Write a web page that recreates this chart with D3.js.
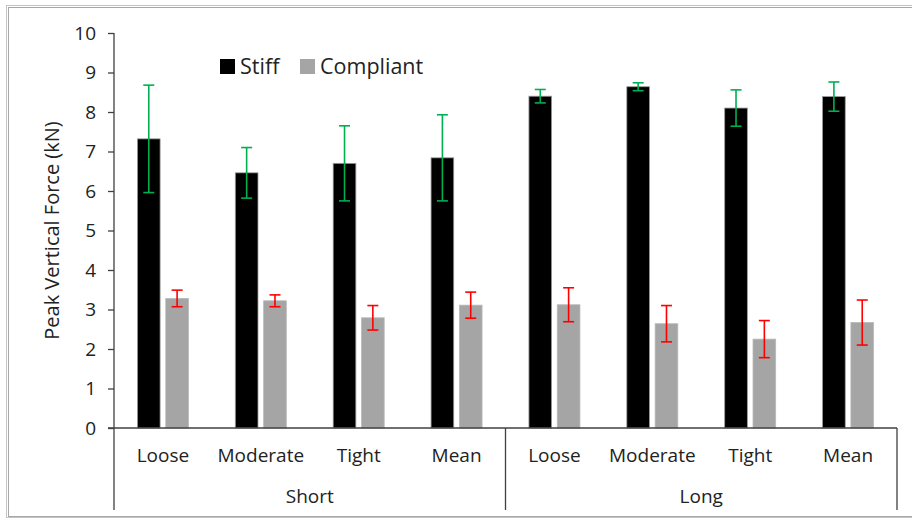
<!DOCTYPE html>
<html>
<head>
<meta charset="utf-8">
<script src="https://cdn.jsdelivr.net/npm/d3@7"></script>
<style>
	body { margin: 0; background: #fff; }
	text { font-family: "Open Sans", sans-serif; fill: #222; }
</style>
</head>
<body>
<div id="chart"></div>
<script>
// data
const groups = ['Short', 'Long'];
const conditions = ['Loose', 'Moderate', 'Tight', 'Mean'];
const stiff = [7.32, 6.46, 6.70, 6.84, 8.40, 8.64, 8.10, 8.39];
const stiffErr = [1.36, 0.64, 0.95, 1.09, 0.17, 0.10, 0.46, 0.37];
const compliant = [3.28, 3.22, 2.79, 3.11, 3.12, 2.64, 2.25, 2.67];
const compliantErr = [0.21, 0.15, 0.31, 0.33, 0.43, 0.46, 0.47, 0.57];
const yTicks = [0, 1, 2, 3, 4, 5, 6, 7, 8, 9, 10];

const w = 912, h = 520;
const m = { left: 114, right: 15, top: 33, bottom: 92 };

let svg = d3.select('#chart').append('svg')
	.attr('width', w).attr('height', h);

// frame
svg.append('rect').attr('x', 6.5).attr('y', 5.5).attr('width', w).attr('height', 512)
	.attr('fill', 'none').attr('stroke', '#c4c4c4').attr('stroke-width', 1);
svg.append('rect').attr('x', 8.5).attr('y', 7.5).attr('width', w).attr('height', 509)
	.attr('fill', 'none').attr('stroke', '#a8a8a8').attr('stroke-width', 1);

// one slot per group/condition
let cats = [];
groups.forEach(function(g) { conditions.forEach(function(c) { cats.push(g + '|' + c) }) });

const x = d3.scaleBand().domain(cats).range([m.left, w - m.right]);
const inner = d3.scaleBand().domain(['stiff', 'compliant']).range([0, 51]).paddingInner(0.2);
const y = d3.scaleLinear().domain([0, 10]).range([h - m.bottom, m.top]);
const y0 = y(0);
const off = (x.bandwidth() - 51) / 2;

const series = [
	{ key: 'stiff', vals: stiff, err: stiffErr, fill: '#000000', stroke: '#9a9a9a', ebar: '#00b050' },
	{ key: 'compliant', vals: compliant, err: compliantErr, fill: '#a5a5a5', stroke: '#b8b8b8', ebar: '#ff0000' }
];

series.forEach(function(s) {
	let g = svg.append('g').attr('class', 'bars-' + s.key);
	g.selectAll('rect')
		.data(s.vals)
		.enter()
		.append('rect')
		.attr('x', function(d, i) { return x(cats[i]) + off + inner(s.key) })
		.attr('y', function(d) { return y(d) })
		.attr('width', inner.bandwidth())
		.attr('height', function(d) { return y0 - y(d) })
		.attr('fill', s.fill)
		.attr('stroke', s.stroke)
		.attr('stroke-width', 0.8);
});

// error bars
series.forEach(function(s) {
	let g = svg.append('g').attr('class', 'err-' + s.key)
		.attr('stroke', s.ebar).attr('stroke-width', 1.6).attr('fill', 'none');
	s.vals.forEach(function(v, i) {
		let cx = x(cats[i]) + off + inner(s.key) + inner.bandwidth() / 2;
		let hi = y(v + s.err[i]), lo = y(v - s.err[i]);
		g.append('line').attr('x1', cx).attr('x2', cx).attr('y1', hi).attr('y2', lo);
		g.append('line').attr('x1', cx - 5.5).attr('x2', cx + 5.5).attr('y1', hi).attr('y2', hi);
		g.append('line').attr('x1', cx - 5.5).attr('x2', cx + 5.5).attr('y1', lo).attr('y2', lo);
	});
});

// y axis
let yAxis = svg.append('g')
	.attr('transform', 'translate(' + m.left + ',0)')
	.call(d3.axisLeft(y).tickValues(yTicks).tickSize(6).tickPadding(12).tickFormat(d3.format('d')));
yAxis.selectAll('line, path').attr('stroke', '#404040').attr('stroke-width', 1.3);
yAxis.select('.domain').attr('d', 'M0,' + y(10) + 'V' + y0);
yAxis.selectAll('text').attr('font-size', 19).attr('font-family', '"Open Sans", sans-serif').attr('fill', '#222');

svg.append('text')
	.attr('transform', 'translate(59,' + ((y(10) + y0) / 2) + ') rotate(-90)')
	.attr('text-anchor', 'middle')
	.attr('font-size', 20)
	.text('Peak Vertical Force (kN)');

// x axis: baseline and group dividers
let xg = svg.append('g').attr('stroke', '#404040').attr('stroke-width', 1.3);
xg.append('line').attr('x1', m.left - 6).attr('x2', w - m.right).attr('y1', y0).attr('y2', y0);
[0, 4, 8].forEach(function(k) {
	let xx = k < 8 ? x(cats[k]) : x(cats[7]) + x.bandwidth();
	xg.append('line').attr('x1', xx).attr('x2', xx).attr('y1', y0).attr('y2', 510);
});

svg.append('g').selectAll('text')
	.data(cats)
	.enter()
	.append('text')
	.attr('x', function(d) { return x(d) + x.bandwidth() / 2 })
	.attr('y', y0 + 34)
	.attr('text-anchor', 'middle')
	.attr('font-size', 19)
	.text(function(d) { return d.split('|')[1] });

svg.append('g').selectAll('text')
	.data(groups)
	.enter()
	.append('text')
	.attr('x', function(d, i) { return (x(cats[i * 4]) + x(cats[i * 4 + 3]) + x.bandwidth()) / 2 })
	.attr('y', y0 + 75)
	.attr('text-anchor', 'middle')
	.attr('font-size', 19)
	.text(function(d) { return d });

// legend
let legend = svg.append('g').attr('transform', 'translate(220,59)');
let lx = [0, 80];
series.forEach(function(s, i) {
	legend.append('rect').attr('x', lx[i]).attr('y', 0).attr('width', 15).attr('height', 15)
		.attr('fill', s.fill);
	legend.append('text').attr('x', lx[i] + 20).attr('y', 15)
		.attr('font-size', 21.5)
		.text(i == 0 ? 'Stiff' : 'Compliant');
});
</script>
</body>
</html>
